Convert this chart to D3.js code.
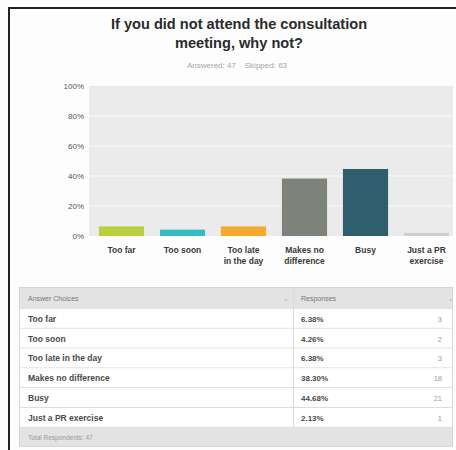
<!DOCTYPE html>
<html><head><meta charset="utf-8">
<script src="https://cdn.jsdelivr.net/npm/d3@7"></script>
<style>html,body{margin:0;padding:0;background:#fff;}svg{display:block;font-family:Arial,"Liberation Sans",sans-serif;}</style>
</head><body>
<svg id="c" width="456" height="450"></svg>
<script>
const categories = ["Too far","Too soon","Too late in the day","Makes no difference","Busy","Just a PR exercise"];
const axisLabels = [["Too far"],["Too soon"],["Too late","in the day"],["Makes no","difference"],["Busy"],["Just a PR","exercise"]];
const percents = [6.38, 4.26, 6.38, 38.30, 44.68, 2.13];
const counts = [3, 2, 3, 18, 21, 1];
const colors = ["#b8d03c","#2fbfc0","#f6a92b","#7d827a","#2f5f6d","#cfcfcf"];
const yTicks = [0,20,40,60,80,100];
const answered = 47, skipped = 63, totalRespondents = 47;

const svg = d3.select("#c");
svg.append("rect").attr("x",0).attr("y",0).attr("width",456).attr("height",450).attr("fill","#fdfdfd");
// frame
svg.append("rect").attr("x",8).attr("y",7).attr("width",456).attr("height",2).attr("fill","#222");
svg.append("rect").attr("x",8).attr("y",7).attr("width",2).attr("height",450).attr("fill","#222");

// title
svg.append("text").attr("x",239).attr("y",29).attr("text-anchor","middle").attr("font-size",14.6).attr("font-weight","bold").attr("fill","#2b2b2b").text("If you did not attend the consultation");
svg.append("text").attr("x",239).attr("y",48).attr("text-anchor","middle").attr("font-size",14.6).attr("font-weight","bold").attr("fill","#2b2b2b").text("meeting, why not?");
svg.append("text").attr("x",237).attr("y",68).attr("text-anchor","middle").attr("font-size",8).attr("fill","#a5a5a5").attr("xml:space","preserve").text("Answered: " + answered + "    Skipped: " + skipped);

// chart
const x = d3.scaleBand().domain(categories).range([91,457]).paddingInner(0.26).paddingOuter(0.13);
const y = d3.scaleLinear().domain([0,100]).range([236,86]);

svg.append("rect").attr("x",89).attr("y",y(100)).attr("width",364).attr("height",y(0)-y(100)).attr("fill","#ebebeb");
svg.selectAll(".grid").data(yTicks.filter(d=>d>0 && d<100)).join("line")
  .attr("x1",89).attr("x2",453).attr("y1",d=>y(d)).attr("y2",d=>y(d))
  .attr("stroke","#fafafa").attr("stroke-width",1);

const yAxis = svg.append("g").attr("transform","translate(89,0)")
  .call(d3.axisLeft(y).tickValues(yTicks).tickFormat(d=>d+"%").tickSize(0).tickPadding(5));
yAxis.select(".domain").remove();
yAxis.selectAll("text").attr("font-size",8).attr("fill","#555").attr("font-family","Arial, 'Liberation Sans', sans-serif");

svg.selectAll(".bar").data(categories).join("rect")
  .attr("x",d=>x(d)).attr("width",x.bandwidth())
  .attr("y",(d,i)=>y(percents[i])).attr("height",(d,i)=>y(0)-y(percents[i]))
  .attr("fill",(d,i)=>colors[i]);

const xl = svg.selectAll(".xl").data(categories).join("text")
  .attr("text-anchor","middle").attr("font-size",8.5).attr("font-weight","bold").attr("fill","#3a3a3a")
  .attr("x",d=>x(d)+x.bandwidth()/2).attr("y",253);
xl.each(function(d,i){
  d3.select(this).selectAll("tspan").data(axisLabels[i]).join("tspan")
    .attr("x",x(d)+x.bandwidth()/2).attr("dy",(t,j)=>j===0?0:10.5).text(t=>t);
});

// table
const tx0 = 19, tx1 = 453, colX = 293, headerTop = 287, rowH = 19.8;
const tbl = svg.append("g");
tbl.append("rect").attr("x",tx0).attr("y",headerTop).attr("width",tx1-tx0).attr("height",22).attr("fill","#e3e3e3");
tbl.append("text").attr("x",tx0+9).attr("y",headerTop+14).attr("font-size",7).attr("fill","#777").text("Answer Choices");
tbl.append("text").attr("x",colX+8).attr("y",headerTop+14).attr("font-size",7).attr("fill","#777").text("Responses");
tbl.append("text").attr("x",colX-10).attr("y",headerTop+14).attr("font-size",7).attr("fill","#aaa").text("⌄");
tbl.append("text").attr("x",tx1-5).attr("y",headerTop+14).attr("font-size",7).attr("fill","#aaa").text("⌄");
const bodyTop = headerTop + 22;
categories.forEach((c,i)=>{
  const ry = bodyTop + i*rowH;
  tbl.append("rect").attr("x",tx0).attr("y",ry).attr("width",tx1-tx0).attr("height",rowH).attr("fill","#fff");
  tbl.append("line").attr("x1",tx0).attr("x2",tx1).attr("y1",ry+rowH-0.5).attr("y2",ry+rowH-0.5).attr("stroke","#dcdcdc");
  tbl.append("text").attr("x",tx0+9).attr("y",ry+12.8).attr("font-size",8.5).attr("font-weight","bold").attr("fill","#4a4a4a").text(c);
  tbl.append("text").attr("x",colX+8).attr("y",ry+12.8).attr("font-size",8).attr("font-weight","bold").attr("fill","#4a4a4a").text(percents[i].toFixed(2)+"%");
  tbl.append("text").attr("x",tx1-11).attr("y",ry+12.8).attr("text-anchor","end").attr("font-size",7.5).attr("fill","#999").text(counts[i]);
});
tbl.append("line").attr("x1",colX+0.5).attr("x2",colX+0.5).attr("y1",headerTop).attr("y2",bodyTop+categories.length*rowH).attr("stroke","#dcdcdc");
const footTop = bodyTop + categories.length*rowH;
tbl.append("rect").attr("x",tx0).attr("y",footTop).attr("width",tx1-tx0).attr("height",19).attr("fill","#e3e3e3");
tbl.append("text").attr("x",tx0+9).attr("y",footTop+12).attr("font-size",6.5).attr("fill","#999").text("Total Respondents: " + totalRespondents);
tbl.append("rect").attr("x",tx0+0.5).attr("y",headerTop+0.5).attr("width",tx1-tx0-1).attr("height",footTop+19-headerTop-1).attr("fill","none").attr("stroke","#d6d6d6");
</script>
</body></html>
